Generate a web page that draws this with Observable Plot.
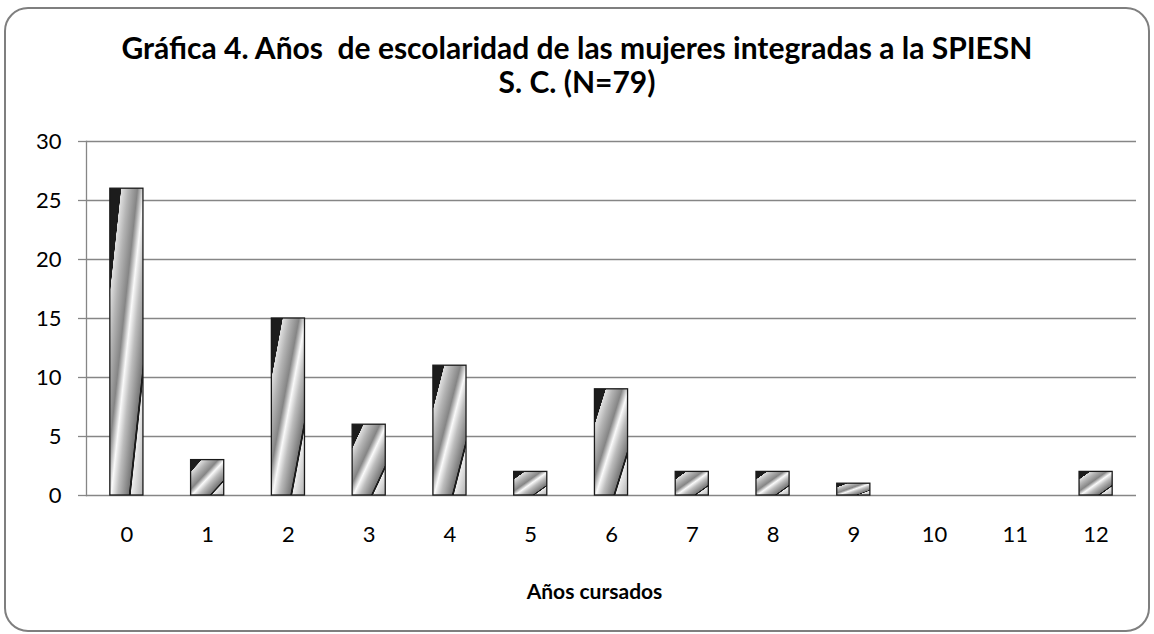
<!DOCTYPE html>
<html><head><meta charset="utf-8">
<script src="https://cdn.jsdelivr.net/npm/d3@7"></script>
<script src="https://cdn.jsdelivr.net/npm/@observablehq/plot@0.6"></script>
<style>
body{margin:0;background:#fff;font-family:Lato,"Open Sans",sans-serif;}
#wrap{position:relative;width:1154px;height:634px;overflow:hidden;}
#border{position:absolute;left:4px;top:7px;width:1142px;height:621px;border:2px solid #7f7f7f;border-radius:24px;pointer-events:none;z-index:5;}
#title{height:80px;padding-top:30px;text-align:center;font-weight:bold;font-size:30px;line-height:34px;color:#000;}
#chart svg{display:block;}
</style></head>
<body>
<div id="wrap">
  <div id="border"></div>
  <div id="title">Gráfica 4. Años&nbsp; de escolaridad de las mujeres integradas a la SPIESN<br>S. C. (N=79)</div>
  <div id="chart"></div>
</div>
<script>
const years = ["0","1","2","3","4","5","6","7","8","9","10","11","12"];
const counts = [26,3,15,6,11,2,9,2,2,1,0,0,2];
const yTicks = [0,5,10,15,20,25,30];
const xTitle = "Años cursados";

const data = years.map((year, i) => ({year, count: counts[i]}));

const plot = Plot.plot({
  width: 1154, height: 524,
  marginTop: 31, marginBottom: 139, marginLeft: 86, marginRight: 18,
  style: {fontFamily: "Lato, sans-serif", fontSize: "22px", color: "#000", background: "transparent", overflow: "visible"},
  x: {type: "band", domain: years, paddingInner: 0.59, paddingOuter: 0.295, round: false},
  y: {domain: [0, 30]},
  marks: [
    Plot.gridY(yTicks, {stroke: "#868686", strokeOpacity: 1, strokeWidth: 1.3}),
    Plot.frame({anchor: "left", stroke: "#868686", strokeWidth: 1.3}),
    Plot.barY(data, {x: "year", y: "count", fill: "url(#stripe)", stroke: "#1a1a1a", strokeWidth: 1.3, filter: d => d.count > 0}),
    Plot.axisY(yTicks, {tickSize: 8, tickPadding: 17, stroke: "#868686", strokeWidth: 1.3, label: null}),
    Plot.axisX({tickSize: 0, tickPadding: 31, label: null}),
    Plot.text([xTitle], {frameAnchor: "bottom", dy: 103, dx: -17, fontWeight: "bold", fontSize: 21, fill: "#000"})
  ]
});

const grad = d3.select(plot).insert("defs", ":first-child")
  .append("linearGradient").attr("id", "stripe")
  .attr("x1", 0).attr("y1", 0).attr("x2", 1).attr("y2", 1);
[[0,"#1c1c1c"],[0.17,"#1c1c1c"],[0.175,"#e0e0e0"],[0.28,"#b4b4b4"],[0.42,"#858585"],
 [0.52,"#fafafa"],[0.62,"#bcbcbc"],[0.78,"#787878"],[0.79,"#1c1c1c"],[0.81,"#1c1c1c"],
 [0.82,"#ececec"],[1,"#b0b0b0"]].forEach(([o,c]) =>
  grad.append("stop").attr("offset", o).attr("stop-color", c));

document.getElementById("chart").appendChild(plot);
</script>
</body></html>
